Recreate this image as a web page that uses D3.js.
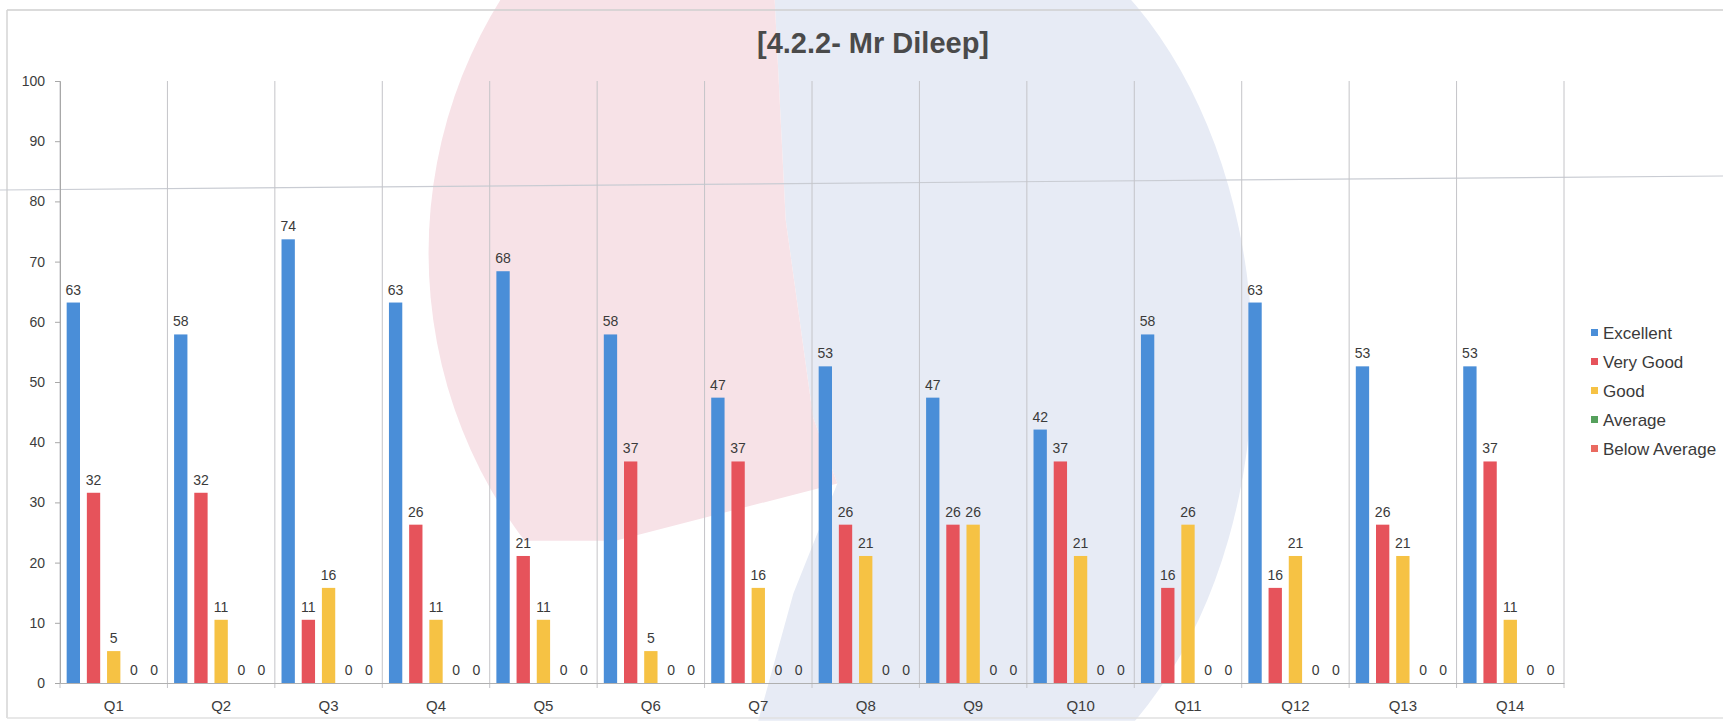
<!DOCTYPE html>
<html>
<head>
<meta charset="utf-8">
<script src="https://cdn.jsdelivr.net/npm/d3@7"></script>
<style>
  html, body { margin: 0; padding: 0; background: #ffffff; }
  svg { display: block; font-family: "Liberation Sans", Arial, sans-serif; }
</style>
</head>
<body>
<svg id="chart" width="1723" height="721"></svg>
<script>
// ---- data ----
const title = "[4.2.2- Mr Dileep]";
const categories = ["Q1","Q2","Q3","Q4","Q5","Q6","Q7","Q8","Q9","Q10","Q11","Q12","Q13","Q14"];
const seriesNames = ["Excellent","Very Good","Good","Average","Below Average"];
const excellent    = [63.2,57.9,73.7,63.2,68.4,57.9,47.4,52.6,47.4,42.1,57.9,63.2,52.6,52.6];
const veryGood     = [31.6,31.6,10.5,26.3,21.1,36.8,36.8,26.3,26.3,36.8,15.8,15.8,26.3,36.8];
const good         = [5.3,10.5,15.8,10.5,10.5,5.3,15.8,21.1,26.3,21.1,26.3,21.1,21.1,10.5];
const average      = [0,0,0,0,0,0,0,0,0,0,0,0,0,0];
const belowAverage = [0,0,0,0,0,0,0,0,0,0,0,0,0,0];
const yTicks = [0,10,20,30,40,50,60,70,80,90,100];

const seriesValues = [excellent, veryGood, good, average, belowAverage];
const seriesColors = ["#4a8ed8", "#e6535b", "#f6c244", "#55a05c", "#ea6a60"];

// ---- layout ----
const svg = d3.select("#chart");
const W = 1723, H = 721;
const plot = { left: 60, right: 1564, top: 81, bottom: 683 };

// faint watermark logo behind the chart (scan background, decorative only)
const k = 1723 / 1568;
const defs = svg.append("defs");
defs.append("clipPath").attr("id", "pinkClip").append("ellipse")
  .attr("cx", 790 * k).attr("cy", 230 * k).attr("rx", 400 * k).attr("ry", 420 * k);
defs.append("clipPath").attr("id", "blueClip").append("ellipse")
  .attr("cx", 850 * k).attr("cy", 330 * k).attr("rx", 290 * k).attr("ry", 420 * k);
const pinkShape = [[0,0],[705,0],[715,200],[740,380],[762,440],[560,492],[0,492]];
const blueShape = [[705,0],[1568,0],[1568,656],[690,656],[722,540],[762,440],[740,380],[715,200]];
const wmLine = d3.line().x(d => d[0] * k).y(d => d[1] * k).curve(d3.curveLinearClosed);
svg.append("path").attr("d", wmLine(blueShape)).attr("fill", "#e7ebf5").attr("clip-path", "url(#blueClip)");
svg.append("path").attr("d", wmLine(pinkShape)).attr("fill", "#f7e2e7").attr("clip-path", "url(#pinkClip)");

// frame lines
svg.append("line").attr("x1", 7).attr("x2", W).attr("y1", 10).attr("y2", 10)
  .attr("stroke", "#cfcfcf").attr("stroke-width", 1.5);
svg.append("line").attr("x1", 7).attr("x2", 7).attr("y1", 10).attr("y2", 718)
  .attr("stroke", "#d4d4d4").attr("stroke-width", 1.5);
svg.append("line").attr("x1", 7).attr("x2", W).attr("y1", 718).attr("y2", 718)
  .attr("stroke", "#e0e0e0").attr("stroke-width", 1.5);
// scan artefact line
svg.append("line").attr("x1", 0).attr("x2", W).attr("y1", 190).attr("y2", 176)
  .attr("stroke", "#c9ccd3").attr("stroke-width", 1.2);

// ---- scales ----
const x0 = d3.scaleBand().domain(categories).range([plot.left, plot.right]).paddingInner(0).paddingOuter(0);
const x1 = d3.scaleBand().domain(seriesNames).range([0, x0.bandwidth()]).paddingInner(0.34).paddingOuter(0.33);
const y = d3.scaleLinear().domain([0, 100]).range([plot.bottom, plot.top]);

// vertical category dividers
const edges = categories.map(c => x0(c)).concat([plot.right]);
svg.append("g").selectAll("line").data(edges).join("line")
  .attr("x1", d => d).attr("x2", d => d)
  .attr("y1", plot.top).attr("y2", plot.bottom + 5)
  .attr("stroke", "#c4c4c8").attr("stroke-width", 1);

// y axis
const yAxis = svg.append("g").attr("transform", `translate(${plot.left},0)`)
  .call(d3.axisLeft(y).tickValues(yTicks).tickSize(5).tickPadding(10).tickFormat(d3.format("d")));
yAxis.select(".domain").attr("stroke", "#a8a8a8");
yAxis.selectAll(".tick line").attr("stroke", "#a8a8a8");
yAxis.selectAll("text").attr("font-size", 14).attr("fill", "#3c3c3c")
  .attr("font-family", "'Liberation Sans', Arial, sans-serif");

// x axis
const xAxis = svg.append("g").attr("transform", `translate(0,${plot.bottom})`)
  .call(d3.axisBottom(x0).tickSize(0).tickPadding(17));
xAxis.select(".domain").attr("stroke", "#b0b0b0");
xAxis.selectAll("text").attr("font-size", 15).attr("fill", "#3c3c3c")
  .attr("font-family", "'Liberation Sans', Arial, sans-serif");

// ---- bars ----
const fmt = d3.format(".0f");
const groups = svg.append("g").selectAll("g").data(categories).join("g")
  .attr("transform", c => `translate(${x0(c)},0)`);

seriesNames.forEach((s, si) => {
  groups.append("rect")
    .attr("x", x1(s))
    .attr("width", x1.bandwidth())
    .attr("y", (c, ci) => y(seriesValues[si][ci]))
    .attr("height", (c, ci) => plot.bottom - y(seriesValues[si][ci]))
    .attr("fill", seriesColors[si]);
  groups.append("text")
    .attr("x", x1(s) + x1.bandwidth() / 2)
    .attr("y", (c, ci) => y(seriesValues[si][ci]) - 8)
    .attr("text-anchor", "middle")
    .attr("font-size", 14)
    .attr("fill", "#3a3a3a")
    .text((c, ci) => fmt(seriesValues[si][ci]));
});

// ---- title ----
svg.append("text")
  .attr("x", 873).attr("y", 53)
  .attr("text-anchor", "middle")
  .attr("font-size", 29).attr("font-weight", "bold")
  .attr("fill", "#4a4a4a")
  .text(title);

// ---- legend ----
const legend = svg.append("g").attr("transform", "translate(1591,333)");
const li = legend.selectAll("g").data(seriesNames).join("g")
  .attr("transform", (d, i) => `translate(0,${i * 29})`);
li.append("rect").attr("x", 0).attr("y", -4).attr("width", 7).attr("height", 7)
  .attr("fill", (d, i) => seriesColors[i]);
li.append("text").attr("x", 12).attr("y", 0).attr("dy", "0.35em")
  .attr("font-size", 17).attr("fill", "#3a3a3a").text(d => d);
</script>
</body>
</html>
